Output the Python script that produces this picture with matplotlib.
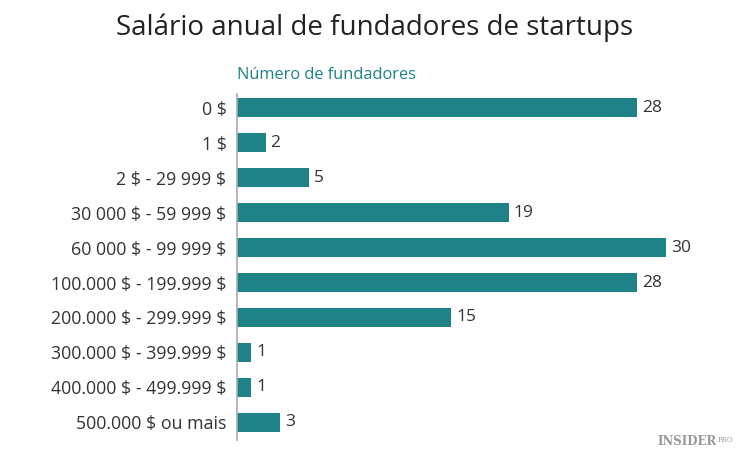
import matplotlib
matplotlib.use("Agg")
import matplotlib.pyplot as plt

# faixas salariais e numero de fundadores
categorias = ["0 $", "1 $", "2 $ - 29 999 $", "30 000 $ - 59 999 $", "60 000 $ - 99 999 $",
              "100.000 $ - 199.999 $", "200.000 $ - 299.999 $", "300.000 $ - 399.999 $",
              "400.000 $ - 499.999 $", "500.000 $ ou mais"]
fundadores = [28, 2, 5, 19, 30, 28, 15, 1, 1, 3]

plt.rcParams['font.family'] = ['Open Sans', 'DejaVu Sans']
plt.rcParams['text.parse_math'] = False

fig = plt.figure(figsize=(7.5, 4.58), dpi=100)
ax = fig.add_axes([0.316, 0.040, 0.572, 0.755])

cor = '#1f8287'
y = list(range(len(categorias)))
ax.barh(y, fundadores, height=0.55, color=cor)
for i, v in enumerate(fundadores):
    ax.text(v + 0.35, i, str(v), va='center', ha='left', fontsize=12.5, color='#333333')

ax.set_xlim(0, 30)
ax.set_ylim(9.5, -0.4)
ax.set_yticks(y)
ax.set_yticklabels(categorias, fontsize=12.8, color='#333333')
ax.set_xticks([])
ax.tick_params(axis='y', length=0, pad=7.5)
for s in ['top', 'right', 'bottom']:
    ax.spines[s].set_visible(False)
ax.spines['left'].set_color('#aaaaaa')
ax.spines['left'].set_linewidth(1.2)

fig.text(0.5, 0.94, "Salário anual de fundadores de startups", ha='center', va='center',
         fontsize=20, color='#222222')
fig.text(0.316, 0.836, "Número de fundadores", ha='left', va='center', fontsize=11.8, color='#1f8287')
fig.text(0.955, 0.035, "INSIDER", ha='right', va='center', fontsize=8.5, color='#999999',
         family='DejaVu Serif', weight='bold')
fig.text(0.957, 0.040, "PRO", ha='left', va='center', fontsize=5, color='#999999',
         family='DejaVu Serif')

fig.savefig("out.png", dpi=100, facecolor='white')
